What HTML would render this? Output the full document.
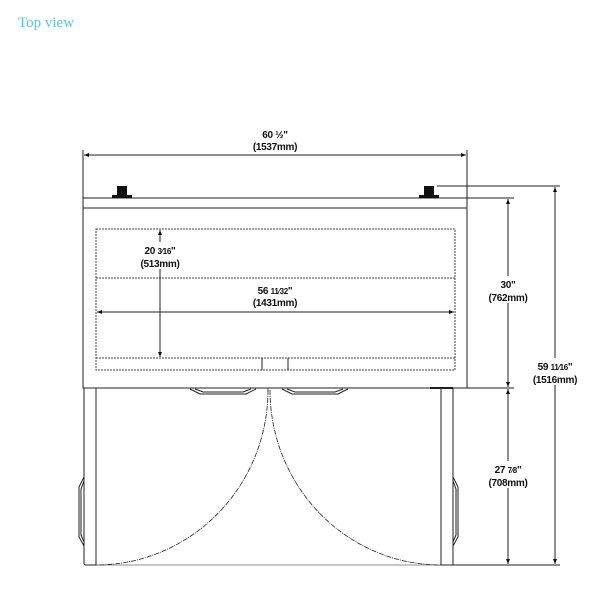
<!DOCTYPE html>
<html><head><style>
html,body{margin:0;padding:0;background:#fff;}
svg{display:block;}
.t{font-family:"Liberation Sans",sans-serif;font-weight:bold;font-size:10px;fill:#111;text-anchor:middle;letter-spacing:-0.3px;}
</style></head><body>
<svg width="602" height="614" viewBox="0 0 602 614" xmlns="http://www.w3.org/2000/svg">
<defs>
<marker id="a" viewBox="0 0 10 10" refX="10" refY="5" markerWidth="7" markerHeight="5" orient="auto-start-reverse"><path d="M0,1 L10,5 L0,9 z" fill="#111"/></marker>
</defs>
<text x="18" y="27" font-family="Liberation Serif, serif" font-size="15" fill="#5cc6d8">Top view</text>
<g stroke="#222" fill="none" stroke-width="1">
<!-- top dim -->
<line x1="83" y1="150" x2="83" y2="198"/>
<line x1="467" y1="150" x2="467" y2="198"/>
<line x1="84" y1="155" x2="466" y2="155" marker-start="url(#a)" marker-end="url(#a)"/>
<!-- body -->
<rect x="83" y="198" width="384" height="190"/>
<line x1="83" y1="208" x2="467" y2="208"/>
<!-- inner dashed -->
<g stroke-dasharray="2,1" stroke="#444">
<rect x="96" y="229" width="359" height="141"/>
<line x1="96" y1="278" x2="455" y2="278"/>
<line x1="96" y1="358" x2="455" y2="358"/>
</g>
<line x1="262" y1="358" x2="262" y2="370"/>
<line x1="288" y1="358" x2="288" y2="370"/>
<line x1="160" y1="230" x2="160" y2="357" marker-start="url(#a)" marker-end="url(#a)"/>
<line x1="97" y1="312" x2="454" y2="312" marker-start="url(#a)" marker-end="url(#a)"/>
<!-- door posts -->
<path d="M84,388 V563 Q84,565 86,565 H96 V388"/>
<path d="M441,388 V565 H453 V388"/>
<line x1="96" y1="565" x2="441" y2="565" stroke-width="0.6"/>
<!-- door swings -->
<g stroke-dasharray="5,1,1,1" stroke-width="0.8">
<path d="M268,390 A172,175 0 0 1 96,565"/>
<path d="M270,390 A171,175 0 0 0 441,565"/>
<line x1="268" y1="388" x2="268" y2="392"/>
</g>
<!-- top handles -->
<path d="M190,389 L200,394 H246 L256,389"/>
<path d="M195,389 L203,392 H243 L251,389"/>
<path d="M282,389 L292,394 H338 L348,389"/>
<path d="M287,389 L295,392 H335 L343,389"/>
<line x1="430" y1="388" x2="453" y2="388" stroke-width="2"/>
<!-- side handles -->
<path d="M84,477 L79,487 V537 L84,546"/>
<path d="M84,481 L81,489 V535 L84,542"/>
<path d="M453,477 L458,487 V537 L453,546"/>
<path d="M453,481 L456,489 V535 L453,542"/>
<!-- right dims -->
<line x1="437" y1="186" x2="560" y2="186"/>
<line x1="467" y1="198" x2="514" y2="198"/>
<line x1="467" y1="388" x2="514" y2="388"/>
<line x1="453" y1="565" x2="560" y2="565"/>
<line x1="508" y1="199" x2="508" y2="387" marker-start="url(#a)" marker-end="url(#a)"/>
<line x1="508" y1="389" x2="508" y2="564" marker-start="url(#a)" marker-end="url(#a)"/>
<line x1="555" y1="187" x2="555" y2="564" marker-start="url(#a)" marker-end="url(#a)"/>
</g>
<!-- knobs -->
<g fill="#111">
<rect x="117" y="186" width="10" height="10"/><rect x="112" y="195" width="20" height="3"/>
<rect x="424" y="186" width="10" height="10"/><rect x="419" y="195" width="20" height="3"/>
</g>
<!-- label backgrounds -->
<g fill="#fff">
<rect x="138" y="242" width="44" height="27"/>
<rect x="246" y="282" width="58" height="26"/>
<rect x="484" y="276" width="48" height="27"/>
<rect x="528" y="358" width="54" height="27"/>
<rect x="484" y="461" width="48" height="27"/>
</g>
<text class="t" x="275" y="138">60 ½"</text><text class="t" x="275" y="150">(1537mm)</text>
<text class="t" x="160" y="254">20 <tspan font-size="8">3⁄16</tspan>"</text><text class="t" x="160" y="267">(513mm)</text>
<text class="t" x="275" y="294">56 <tspan font-size="8">11⁄32</tspan>"</text><text class="t" x="275" y="306">(1431mm)</text>
<text class="t" x="508" y="288">30"</text><text class="t" x="508" y="301">(762mm)</text>
<text class="t" x="555" y="370">59 <tspan font-size="8">11⁄16</tspan>"</text><text class="t" x="555" y="383">(1516mm)</text>
<text class="t" x="508" y="473">27 <tspan font-size="8">7⁄8</tspan>"</text><text class="t" x="508" y="486">(708mm)</text>
</svg>
</body></html>
